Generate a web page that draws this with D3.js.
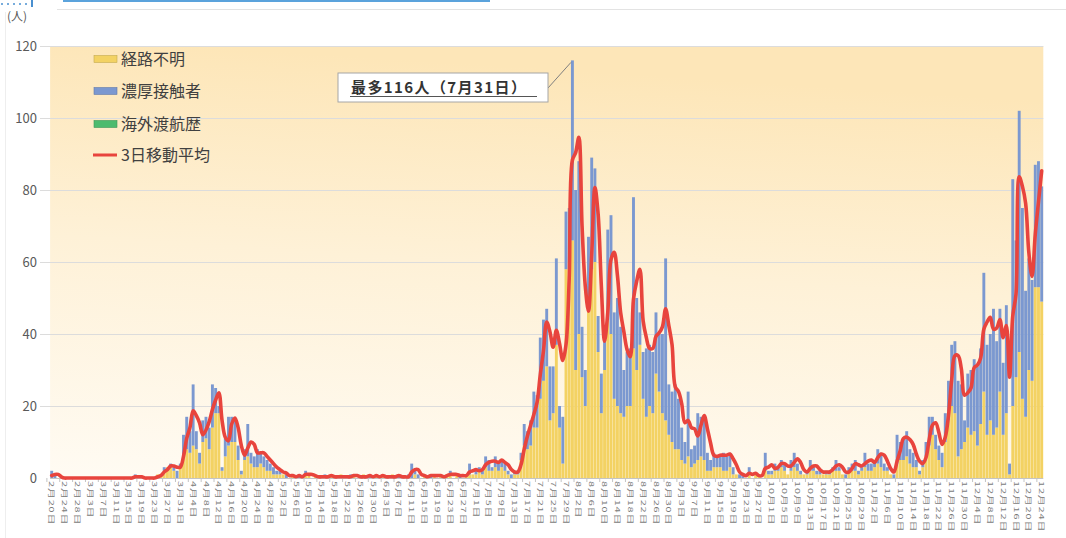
<!DOCTYPE html>
<html><head><meta charset="utf-8">
<script src="https://cdn.jsdelivr.net/npm/d3@7"></script>
<style>
html,body{margin:0;padding:0;background:#fff;}
svg{display:block;font-family:"Noto Sans CJK JP","Noto Sans",sans-serif;}
</style></head><body>
<svg id="chart" width="1066" height="538"></svg>
<script>
// ---------- data ----------
const startDate = "2020-02-20";   // first category
const dayCount = 309;             // 2/20 .. 12/24
// 経路不明 (yellow), one row per month
const unknownRoute = [
 0,0,0,0,0,0,0,0,0,0,
 0,0,0,0,0,0,0,0,0,0,0,0,0,0,0,0,0,0,0,0,0,0,0,1,1,2,3,3,2,0,3,
 6,8,7,9,8,4,10,11,8,14,18,18,2,6,9,10,10,5,1,5,6,4,3,3,4,3,2,2,1,1,
 1,1,0,0,1,0,0,0,1,1,0,1,0,0,0,0,1,0,0,1,0,0,0,1,0,0,1,0,0,0,1,
 0,1,0,0,1,0,0,0,0,0,0,1,0,0,1,0,0,1,0,1,0,1,1,0,1,0,0,1,1,1,
 1,2,1,3,2,2,3,2,3,2,1,0,1,1,5,9,8,9,14,14,22,27,31,16,18,37,14,4,58,60,66,
 30,40,28,20,50,58,60,35,18,30,44,40,22,20,18,17,20,20,36,30,37,22,17,20,18,29,24,18,16,12,10,
 8,8,5,4,6,3,4,5,6,5,2,2,3,3,3,2,2,3,1,1,0,0,0,1,0,1,1,0,2,1,
 1,2,2,3,2,1,2,3,2,1,1,1,2,2,1,1,1,1,1,2,2,2,1,0,2,2,2,1,2,3,2,
 2,3,4,3,2,2,1,0,4,5,5,6,4,3,3,1,3,6,9,12,8,5,3,10,16,20,18,6,8,10,
 14,12,13,9,15,24,12,16,12,14,24,12,18,1,20,28,35,22,17,30,27,53,53,49
];
// 濃厚接触者 (blue)
const closeContact = [
 2,1,0,0,0,0,0,0,0,0,
 0,0,0,0,0,0,0,0,0,0,0,0,0,0,0,0,1,0,0,0,0,0,0,0,0,1,0,1,1,2,1,
 6,9,6,17,5,3,6,6,6,12,7,2,1,5,8,7,6,4,1,3,9,3,3,5,3,3,3,2,2,1,
 1,0,1,0,0,0,1,0,1,0,0,0,0,0,1,0,0,0,0,0,0,0,1,0,0,0,0,0,1,0,0,
 0,0,0,0,0,0,1,0,0,1,4,1,1,0,0,0,1,0,0,0,0,0,1,0,0,1,0,0,3,0,
 1,1,1,3,3,1,3,2,2,2,1,1,1,1,2,6,5,7,10,9,17,17,16,15,13,24,6,13,16,15,50,
 50,48,14,10,17,31,26,10,11,10,25,33,24,30,24,13,15,16,42,20,9,13,19,17,17,17,16,22,45,14,14,
 18,14,9,6,18,5,5,13,11,12,5,3,4,3,3,5,4,4,2,0,1,1,0,2,0,0,0,0,5,1,
 1,2,1,2,2,0,3,4,2,1,0,1,3,1,1,1,0,1,1,1,3,1,0,1,1,2,3,1,1,4,2,
 2,2,4,4,2,1,0,1,8,5,6,7,4,4,2,1,2,4,8,5,4,4,4,8,11,17,20,21,18,6,
 15,18,20,22,21,33,25,24,35,24,23,20,30,3,63,38,67,53,35,31,28,34,35,32
];
// 海外渡航歴 (green)
const overseas = [
 0,0,0,0,0,0,0,0,0,0,
 0,0,0,0,0,0,0,0,0,0,0,0,0,0,0,0,0,0,0,0,0,0,0,0,0,0,0,0,0,0,0,
 0,0,0,0,0,0,0,0,0,0,0,0,0,0,0,0,0,0,0,0,0,0,0,0,0,0,0,0,0,0,
 0,0,0,0,0,0,0,0,0,0,0,0,0,0,0,0,0,0,0,0,0,0,0,0,0,0,0,0,0,0,0,
 0,0,0,0,0,0,0,0,0,0,0,0,0,0,0,0,0,0,0,0,0,0,0,0,0,0,0,0,0,0,
 0,0,0,0,0,0,0,0,0,0,0,0,0,0,0,0,0,0,0,0,0,0,0,0,0,0,0,0,0,0,0,
 0,0,0,0,0,0,0,0,0,0,0,0,0,0,0,0,0,0,0,0,0,0,0,0,0,0,0,0,0,0,0,
 0,0,0,0,0,0,0,0,0,0,0,0,0,0,0,0,0,0,0,0,0,0,0,0,0,0,0,0,0,0,
 0,0,0,0,0,0,0,0,0,0,0,0,0,0,0,0,0,0,0,0,0,0,0,0,0,0,0,0,0,0,0,
 0,0,0,0,0,0,0,0,0,0,0,0,0,0,0,0,0,0,0,0,0,0,0,0,0,0,0,0,0,0,
 0,0,0,0,0,0,0,0,0,0,0,0,0,0,0,0,0,0,0,0,0,0,0,0
];
const yTicks = [0,20,40,60,80,100,120];
const legendNames = ["経路不明","濃厚接触者","海外渡航歴","3日移動平均"];
const unitLabel = "(人)";
const peakText = "最多116人（7月31日）";
const peakIndex = 162; // 7月31日
const labelEvery = 4;

// ---------- build ----------
const parse = d3.timeParse("%Y-%m-%d");
const start = parse(startDate);
const categories = d3.range(dayCount).map(i => d3.timeDay.offset(start, i));
const fmt = d => (d.getMonth()+1) + "月" + d.getDate() + "日";
const rows = categories.map((d,i) => ({i, unknown: unknownRoute[i], contact: closeContact[i], overseas: overseas[i]}));
const totals = rows.map(r => r.unknown + r.contact + r.overseas);
const movingAvg = totals.map((v,i) => ((totals[i-2]||0) + (totals[i-1]||0) + v) / 3);

const colors = {unknown:"#f3d263", contact:"#7b98d0", overseas:"#4dbb6e", line:"#e8443d"};

const svg = d3.select("#chart");
const L = 50.1, R = 1043.3, T = 46, B = 478;

const x = d3.scaleBand().domain(d3.range(dayCount)).range([L, R]).paddingInner(0.1).paddingOuter(0.05);
const y = d3.scaleLinear().domain([0,120]).range([B, T]);

const defs = svg.append("defs");
const grad = defs.append("linearGradient").attr("id","bg").attr("x1",0).attr("y1",1).attr("x2",0.15).attr("y2",0);
grad.append("stop").attr("offset","0%").attr("stop-color","#fffbf3");
grad.append("stop").attr("offset","55%").attr("stop-color","#fef1d7");
grad.append("stop").attr("offset","100%").attr("stop-color","#fde6b8");

// decorations outside the plot
svg.append("rect").attr("x",63).attr("y",0).attr("width",427).attr("height",2).attr("fill","#5ba3dc");
svg.append("line").attr("x1",57).attr("x2",1066).attr("y1",9.5).attr("y2",9.5).attr("stroke","#e3e3e3");
svg.append("line").attr("x1",5.5).attr("x2",5.5).attr("y1",12).attr("y2",538).attr("stroke","#eeeeee");
[2,8,14,20,26].forEach(cx => svg.append("circle").attr("cx",cx).attr("cy",4).attr("r",1).attr("fill","#4a90d0"));
svg.append("rect").attr("x",31).attr("y",0).attr("width",2).attr("height",7).attr("fill","#4a90d0");

// plot background
svg.append("rect").attr("x",L).attr("y",T).attr("width",R-L).attr("height",B-T).attr("fill","url(#bg)");

// gridlines + y labels
svg.append("g").selectAll("line").data(yTicks.filter(t=>t>0)).join("line")
  .attr("x1",40).attr("x2",R).attr("y1",d=>y(d)+0.5).attr("y2",d=>y(d)+0.5)
  .attr("stroke","#dcdcdc").attr("stroke-width",1);
svg.append("g").selectAll("text").data(yTicks).join("text")
  .attr("x",37).attr("y",d=>y(d)).attr("dy","0.35em").attr("text-anchor","end")
  .attr("font-size",13).attr("fill","#595959").text(d=>d);
svg.append("text").attr("x",7).attr("y",21).attr("font-size",12).attr("fill","#595959").text(unitLabel);

// stacked bars
const stack = d3.stack().keys(["unknown","contact","overseas"]);
const layers = stack(rows);
svg.append("g").selectAll("g").data(layers).join("g")
  .attr("fill", d => colors[d.key])
  .selectAll("rect").data(d => d.filter(p => p[1] > p[0])).join("rect")
  .attr("x", p => x(p.data.i)).attr("width", x.bandwidth())
  .attr("y", p => y(p[1])).attr("height", p => y(p[0]) - y(p[1]));

// axis baseline and ticks
svg.append("line").attr("x1",L).attr("x2",R).attr("y1",B+0.5).attr("y2",B+0.5).attr("stroke","#c4c4c4");
const labelIdx = d3.range(0, dayCount, labelEvery);
svg.append("g").selectAll("line").data(labelIdx).join("line")
  .attr("x1", i => x(i) + x.bandwidth()/2 - x.step()*1.5).attr("x2", i => x(i) + x.bandwidth()/2 - x.step()*1.5)
  .attr("y1",B).attr("y2",B+4).attr("stroke","#c4c4c4");
svg.append("g").selectAll("text").data(labelIdx).join("text")
  .attr("transform", i => `translate(${x(i)+x.bandwidth()/2},481) rotate(90) scale(1,0.62)`)
  .attr("dy","0.35em").attr("font-size",11).attr("letter-spacing",0.8)
  .attr("fill","#7a7a7a").text(i => fmt(categories[i]));

// moving average line
const line = d3.line().x((v,i) => x(i) + x.bandwidth()/2).y(v => y(v)).curve(d3.curveCatmullRom.alpha(0.5));
svg.append("path").datum(movingAvg).attr("d", line).attr("fill","none")
  .attr("stroke", colors.line).attr("stroke-width",3.6).attr("stroke-linejoin","round").attr("stroke-linecap","round");

// legend
const lg = svg.append("g");
const keys = ["unknown","contact","overseas","line"];
const ly = [59, 91, 124, 155];
keys.forEach((k,j) => {
  if (k === "line") {
    lg.append("line").attr("x1",93).attr("x2",117).attr("y1",ly[j]).attr("y2",ly[j]).attr("stroke",colors.line).attr("stroke-width",3);
  } else {
    lg.append("rect").attr("x",94).attr("y",ly[j]-3.5).attr("width",23).attr("height",7).attr("fill",colors[k])
      .attr("stroke", d3.color(colors[k]).darker(0.6)).attr("stroke-width",0.6);
  }
  lg.append("text").attr("x",121).attr("y",ly[j]).attr("dy","0.36em").attr("font-size",16)
    .attr("fill","#404040").text(legendNames[j]);
});

// annotation
const px = x(peakIndex), py = y(totals[peakIndex]);
svg.append("line").attr("x1",548).attr("y1",88).attr("x2",px).attr("y2",py+2).attr("stroke","#7f7f7f").attr("stroke-width",1);
svg.append("rect").attr("x",338).attr("y",73).attr("width",210).attr("height",29).attr("fill","#ffffff").attr("stroke","#a6a6a6");
svg.append("text").attr("x",351).attr("y",87.5).attr("dy","0.36em").attr("font-size",15).attr("font-weight","bold")
  .attr("letter-spacing",1.4).attr("fill","#333").text(peakText);
svg.append("line").attr("x1",350).attr("x2",537).attr("y1",96.5).attr("y2",96.5).attr("stroke","#555").attr("stroke-width",1.2);
</script>
</body></html>
